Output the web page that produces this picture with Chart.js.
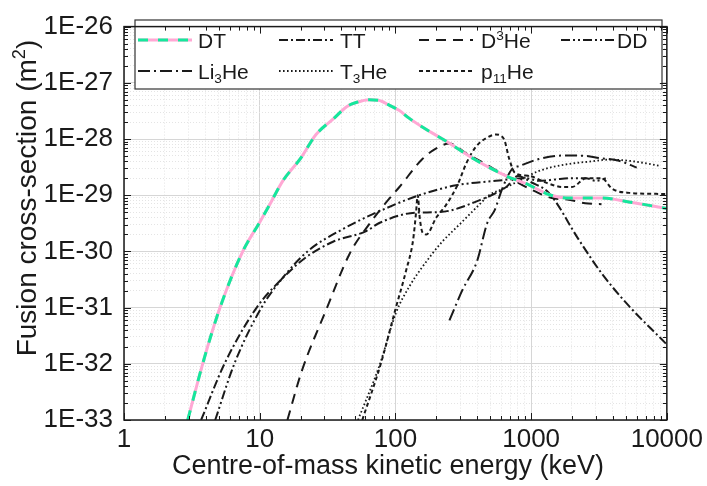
<!DOCTYPE html>
<html lang="en">
<head>
<meta charset="UTF-8">
<title>Fusion cross-sections</title>
<script src="https://cdn.jsdelivr.net/npm/chart.js"></script>
<style>
  html, body { margin: 0; padding: 0; background: #fff; overflow: hidden; }
  canvas { display: block; }
</style>
</head>
<body>
<canvas id="chart" width="707" height="486"></canvas>
<script>
// energies in keV, cross-sections in m^2
const dtE = [2.95, 3.8, 5.1, 7.5, 10, 12, 14.8, 20, 26, 35, 44, 52, 64, 75, 90, 107, 126, 160, 237, 368, 655, 920, 1400, 1900, 3300, 5250, 10000];
const dtS = [1e-33, 1e-32, 1e-31, 1e-30, 3.3e-30, 7.2e-30, 1.8e-29, 4.5e-29, 1.2e-28, 2.3e-28, 3.8e-28, 4.5e-28, 5.0e-28, 4.9e-28, 4.0e-28, 3.2e-28, 2.35e-28, 1.6e-28, 9.1e-29, 4.6e-29, 2.2e-29, 1.6e-29, 1.0e-29, 8.9e-30, 8.9e-30, 7.6e-30, 5.8e-30];

const ttE = [3.7, 5.5, 9.5, 14.5, 22, 35, 61, 76, 142, 210, 414, 655, 800, 1000, 1350, 2250, 3300, 5250, 9200, 10000];
const ttS = [1e-33, 1e-32, 1e-31, 3.2e-31, 7.9e-31, 1.5e-30, 2.3e-30, 3.2e-30, 4.9e-30, 5.0e-30, 8.1e-30, 1.4e-29, 2.2e-29, 1.7e-29, 1.1e-29, 1.6e-30, 4.1e-31, 1.07e-31, 2.7e-32, 2.2e-32];

const d3E = [16, 20.4, 31, 46, 65, 86, 107, 158, 200, 250, 330, 450, 655, 1000, 1420, 1900, 2500, 3300];
const d3S = [1e-33, 7.4e-33, 9.3e-32, 9.1e-31, 3.2e-30, 7.6e-30, 1.4e-29, 4.4e-29, 6.8e-29, 8.3e-29, 5.6e-29, 3.7e-29, 2.2e-29, 1.26e-29, 8.9e-30, 8.3e-30, 7.2e-30, 6.9e-30];

const ddE = [4.7, 6.5, 10.3, 14.5, 22.5, 41, 86, 150, 280, 550, 915, 1140, 1500, 1900, 2540, 3000, 3550];
const ddS = [1e-33, 1e-32, 1e-31, 3.2e-31, 1e-30, 2.5e-30, 5.9e-30, 1.0e-29, 1.5e-29, 1.8e-29, 2.0e-29, 1.8e-29, 1.9e-29, 2.0e-29, 2.0e-29, 1.8e-29, 2.0e-29];

const liE = [250, 310, 400, 475, 540, 612, 725, 815, 1140, 1800, 2530, 3170, 4440, 6000];
const liS = [5.9e-32, 2.0e-31, 6.8e-31, 3.2e-30, 5.5e-30, 1.3e-29, 2.95e-29, 3.3e-29, 4.4e-29, 5.1e-29, 5.0e-29, 4.6e-29, 4.1e-29, 3.1e-29];

const t3E = [53, 76, 101, 127, 187, 222, 300, 415, 490, 620, 815, 1140, 1900, 2800, 3760, 5250, 7000, 9000];
const t3S = [1e-33, 9.1e-33, 8.1e-32, 2.4e-31, 9.1e-31, 1.5e-30, 3.1e-30, 6.8e-30, 1.0e-29, 1.3e-29, 1.8e-29, 2.7e-29, 3.6e-29, 4.0e-29, 4.3e-29, 4.1e-29, 3.7e-29, 3.3e-29];

const pbE = [57, 78, 100, 120, 135, 142, 146, 151, 158, 169, 200, 237, 286, 333, 394, 470, 550, 630, 690, 760, 970, 1300, 1700, 2000, 2540, 3320, 3960, 5300, 9800];
const pbS = [1e-33, 1e-32, 9.3e-32, 4.6e-31, 1.6e-30, 5.0e-30, 1.0e-29, 4.0e-30, 2.2e-30, 2.0e-30, 4.0e-30, 6.8e-30, 1.5e-29, 3.7e-29, 7.4e-29, 1.05e-28, 1.2e-28, 1.0e-28, 4.4e-29, 2.5e-29, 2.2e-29, 1.66e-29, 1.4e-29, 1.4e-29, 2.0e-29, 2.0e-29, 1.3e-29, 1.1e-29, 1.05e-29];

// legend labels: '^' marks superscript, '_' subscript
const legendLabels = [['DT'], ['TT'], ['D', '^3', 'He'], ['DD'], ['Li', '_3', 'He'], ['T', '_3', 'He'], ['p', '_11', 'He']];

const FONT = '"Liberation Sans", Arial, sans-serif';
const INK = '#1a1a1a';
const PINK = '#ffa8d4';
const GREEN = '#14e89c';

const pts = (E, S) => E.map((e, i) => ({ x: e, y: S[i] }));
const isDecade = v => Math.abs(Math.log10(v) - Math.round(Math.log10(v))) < 1e-6;

function logTicks(lo, hi) {
  const t = [];
  for (let p = lo; p < hi; p++)
    for (let m = 1; m < 10; m++) t.push({ value: Number(m + 'e' + p) });
  t.push({ value: Number('1e' + hi) });
  return t;
}

function blackLine(label, E, S, dash, width) {
  return {
    label, data: pts(E, S), borderColor: INK, borderWidth: width || 2,
    borderDash: dash, pointRadius: 0, fill: false
  };
}

// index 0 is drawn last (on top)
const datasets = [
  { label: 'DT', data: pts(dtE, dtS), borderColor: GREEN, borderWidth: 3, borderDash: [10, 10], pointRadius: 0 },
  { label: 'DT-base', data: pts(dtE, dtS), borderColor: PINK, borderWidth: 3, pointRadius: 0 },
  blackLine('TT', ttE, ttS, [9, 3, 2, 3]),
  blackLine('D3He', d3E, d3S, [10, 7]),
  blackLine('DD', ddE, ddS, [9, 3, 2, 3, 2, 3]),
  blackLine('Li3He', liE, liS, [12, 4, 2, 4]),
  blackLine('T3He', t3E, t3S, [1.6, 2.4], 1.8),
  blackLine('p11He', pbE, pbS, [4, 3])
];

function seg(parts) {
  return parts.map(p => p[0] === '^' ? { t: p.slice(1), sup: true }
    : p[0] === '_' ? { t: p.slice(1), sub: true } : { t: p });
}
function richWidth(ctx, segs, size) {
  let w = 0;
  segs.forEach(s => {
    ctx.font = ((s.sub || s.sup) ? size * 0.65 : size) + 'px ' + FONT;
    w += ctx.measureText(s.t).width;
  });
  return w;
}
function drawRich(ctx, segs, x, y, size) {
  let cx = x;
  ctx.textBaseline = 'alphabetic';
  ctx.textAlign = 'left';
  segs.forEach(s => {
    const fs = (s.sub || s.sup) ? size * 0.65 : size;
    ctx.font = fs + 'px ' + FONT;
    const dy = s.sub ? size * 0.22 : s.sup ? -size * 0.38 : 0;
    ctx.fillText(s.t, cx, y + dy);
    cx += ctx.measureText(s.t).width;
  });
}

const legendCols = [138, 279, 419, 561];
const legendTextX = [198, 340, 481, 617];
const legendRows = [40, 71];
const legendOrder = [
  { ds: [1, 0], col: 0, row: 0 }, { ds: [2], col: 1, row: 0 }, { ds: [3], col: 2, row: 0 }, { ds: [4], col: 3, row: 0 },
  { ds: [5], col: 0, row: 1 }, { ds: [6], col: 1, row: 1 }, { ds: [7], col: 2, row: 1 }
];

const decor = {
  id: 'decor',
  afterDraw(chart) {
    const { ctx, chartArea: a, scales: { x, y } } = chart;
    ctx.save();

    // legend box
    ctx.fillStyle = '#fff';
    ctx.fillRect(135, 20, 527, 69);
    ctx.strokeStyle = '#333';
    ctx.lineWidth = 1.2;
    ctx.strokeRect(135, 20, 527, 69);
    legendOrder.forEach((item, k) => {
      const ly = legendRows[item.row];
      const lx = legendCols[item.col];
      item.ds.forEach(i => {
        const d = chart.data.datasets[i];
        ctx.beginPath();
        ctx.setLineDash(d.borderDash || []);
        ctx.strokeStyle = d.borderColor;
        ctx.lineWidth = d.borderWidth;
        ctx.moveTo(lx, ly);
        ctx.lineTo(lx + 54, ly);
        ctx.stroke();
      });
      ctx.setLineDash([]);
      ctx.fillStyle = INK;
      drawRich(ctx, seg(legendLabels[k]), legendTextX[item.col], ly + 7.5, 21);
    });

    // inward tick marks on all four sides
    ctx.strokeStyle = INK;
    ctx.lineWidth = 1;
    x.ticks.forEach(t => {
      const px = Math.round(x.getPixelForValue(t.value)) + 0.5;
      const L = isDecade(t.value) ? 7 : 4;
      ctx.beginPath();
      ctx.moveTo(px, a.bottom); ctx.lineTo(px, a.bottom - L);
      ctx.moveTo(px, a.top); ctx.lineTo(px, a.top + L);
      ctx.stroke();
    });
    y.ticks.forEach(t => {
      const py = Math.round(y.getPixelForValue(t.value)) + 0.5;
      const L = isDecade(t.value) ? 7 : 4;
      ctx.beginPath();
      ctx.moveTo(a.left, py); ctx.lineTo(a.left + L, py);
      ctx.moveTo(a.right, py); ctx.lineTo(a.right - L, py);
      ctx.stroke();
    });

    // frame
    ctx.lineWidth = 1.5;
    ctx.strokeRect(a.left, a.top, a.right - a.left, a.bottom - a.top);

    // axis titles
    ctx.fillStyle = INK;
    ctx.font = '27px ' + FONT;
    ctx.textAlign = 'center';
    ctx.textBaseline = 'middle';
    ctx.fillText('Centre-of-mass kinetic energy (keV)', 388, 467);

    const ytitle = seg(['Fusion cross-section (m', '^2', ')']);
    const w = richWidth(ctx, ytitle, 28);
    ctx.translate(26, 198);
    ctx.rotate(-Math.PI / 2);
    drawRich(ctx, ytitle, -w / 2, 10, 28);
    ctx.restore();
  }
};

const gridColor = c => isDecade(c.tick.value) ? '#d6d6d6' : '#e4e4e4';
const gridDash = c => isDecade(c.tick.value) ? [] : [1, 2];

new Chart(document.getElementById('chart'), {
  type: 'line',
  data: { datasets },
  options: {
    responsive: false,
    animation: false,
    layout: { padding: { top: 18, right: 38, left: 0, bottom: 0 } },
    plugins: { legend: { display: false }, tooltip: { enabled: false } },
    elements: { line: { cubicInterpolationMode: 'monotone' }, point: { radius: 0 } },
    scales: {
      x: {
        type: 'logarithmic', min: 1, max: 10000,
        afterBuildTicks: s => { s.ticks = logTicks(0, 4); },
        afterFit: s => { s.height = 66; },
        grid: { drawTicks: false, color: gridColor, lineWidth: 1 },
        border: { display: false, dash: gridDash },
        ticks: {
          autoSkip: false, maxRotation: 0, padding: 4, color: INK,
          font: { family: FONT, size: 26 },
          callback: v => isDecade(v) ? String(Math.round(v)) : ''
        }
      },
      y: {
        type: 'logarithmic', min: 1e-33, max: 1e-26,
        afterBuildTicks: s => { s.ticks = logTicks(-33, -26); },
        afterFit: s => { s.width = 124; },
        grid: { drawTicks: false, color: gridColor, lineWidth: 1 },
        border: { display: false, dash: gridDash },
        ticks: {
          autoSkip: false, padding: 11, color: INK,
          font: { family: FONT, size: 26 },
          callback: v => isDecade(v) ? '1E' + Math.round(Math.log10(v)) : ''
        }
      }
    }
  },
  plugins: [decor]
});
</script>
</body>
</html>
